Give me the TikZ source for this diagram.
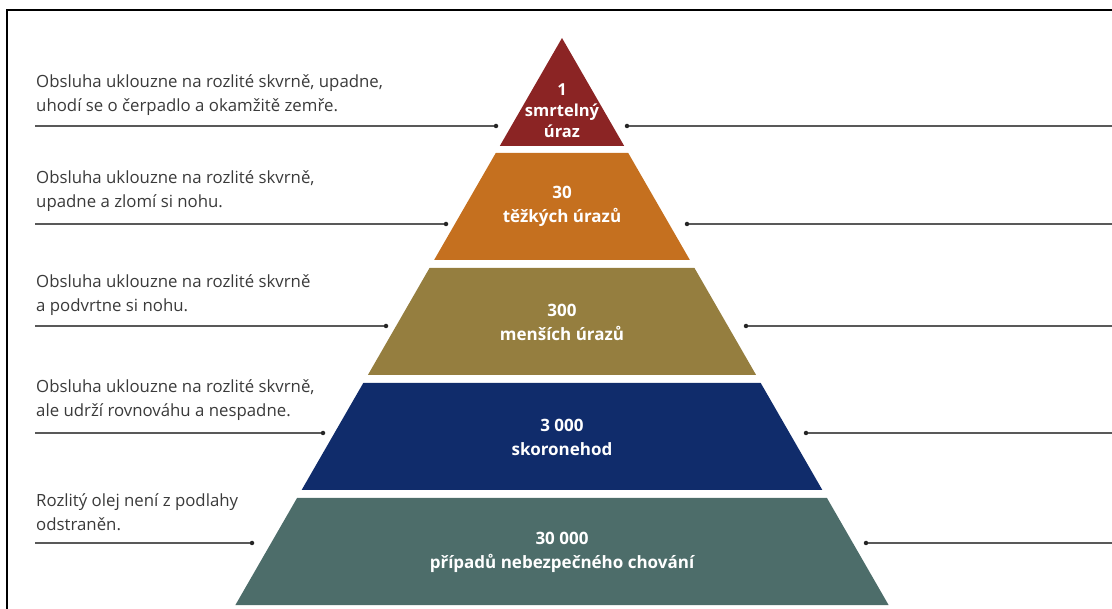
\documentclass[tikz,border=0pt]{standalone}
\usepackage{fontspec}
\setmainfont{Open Sans}
\usetikzlibrary{positioning}
\definecolor{tierred}{HTML}{8B2424}
\definecolor{tierorange}{HTML}{C5701F}
\definecolor{tierolive}{HTML}{957E3F}
\definecolor{tiernavy}{HTML}{102C6B}
\definecolor{tierteal}{HTML}{4D6D6A}
\definecolor{notegray}{HTML}{3A3A3A}

\begin{document}
\begin{tikzpicture}[x=1pt,y=-1pt]
	\tikzset{
	%Define style for the labels inside the pyramid
	tierlabel/.style={
		text=white,
		align=center,
		inner sep=0pt,
		font=\bfseries\fontsize{17}{24}\selectfont},
	%Define style for the notes on the left
	note/.style={
		text=notegray,
		align=left,
		anchor=west,
		inner sep=0pt,
		font=\fontsize{16.8}{24}\selectfont},
	% Define leader line style
	leader/.style={
		draw=black!65,
		line width=1.3pt},
	dot/.style={circle,fill=black!85,inner sep=0pt,minimum size=4.5pt}
}
	\useasboundingbox (0,0) rectangle (1112,609);
	\draw[line width=2pt] (7,609) -- (7,10) -- (1112,10);

	%pyramid tiers
	\foreach \n/\ytop/\ybot/\col in {1/38/146/tierred,2/153/260/tierorange,3/268/375/tierolive,4/383/490/tiernavy,5/498/605/tierteal} {
		\fill[\col] ({562-0.576*(\ytop-38)},\ytop) -- ({562+0.576*(\ytop-38)},\ytop)
			-- ({562+0.576*(\ybot-38)},\ybot) -- ({562-0.576*(\ybot-38)},\ybot) -- cycle;
	}

	%tier labels
	\node[tierlabel,font=\bfseries\fontsize{16.5}{21}\selectfont] (t1) at (562,111) {1\\smrtelný\\úraz};
	\node[tierlabel] (t2) at (562,206) {30\\těžkých úrazů};
	\node[tierlabel] (t3) at (562,322) {300\\menších úrazů};
	\node[tierlabel] (t4) at (562,437) {3 000\\skoronehod};
	\node[tierlabel] (t5) at (562,552) {30 000\\případů nebezpečného chování};

	%notes on the left
	\node[note] (n1) at (36,95) {Obsluha uklouzne na rozlité skvrně, upadne,\\uhodí se o čerpadlo a okamžitě zemře.};
	\node[note] (n2) at (36,191) {Obsluha uklouzne na rozlité skvrně,\\upadne a zlomí si nohu.};
	\node[note] (n3) at (36,295) {Obsluha uklouzne na rozlité skvrně\\a podvrtne si nohu.};
	\node[note] (n4) at (36,400) {Obsluha uklouzne na rozlité skvrně,\\ale udrží rovnováhu a nespadne.};
	\node[note] (n5) at (36,512) {Rozlitý olej není z podlahy\\odstraněn.};

	%leader lines, left and right
	\foreach \n/\y/\xl/\xr in {1/126/496/627,2/224/446/687,3/326/386/746,4/433/323/806,5/543/252/866} {
		\coordinate (ls\n) at (35,\y);
		\node[dot] (ld\n) at (\xl,\y) {};
		\node[dot] (rd\n) at (\xr,\y) {};
		\coordinate (re\n) at (1112,\y);
		\draw[leader] (ls\n) -- (ld\n);
		\draw[leader] (rd\n) -- (re\n);
	}
\end{tikzpicture}
\end{document}
